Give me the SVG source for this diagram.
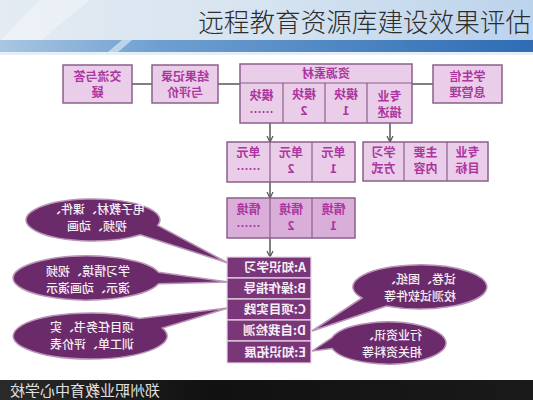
<svg xmlns="http://www.w3.org/2000/svg" width="533" height="400" viewBox="0 0 533 400">
<defs>
<linearGradient id="hdr" x1="0" y1="0" x2="1" y2="0">
<stop offset="0" stop-color="#e4ebf2"/><stop offset="0.5" stop-color="#d6e3f0"/><stop offset="1" stop-color="#bcd3ec"/>
</linearGradient>
<linearGradient id="band" x1="0" y1="0" x2="1" y2="0">
<stop offset="0" stop-color="#a9c6e2"/><stop offset="0.3" stop-color="#6e9fd0"/><stop offset="1" stop-color="#2f6cb4"/>
</linearGradient>
<linearGradient id="foot" x1="0" y1="0" x2="1" y2="0">
<stop offset="0" stop-color="#2a2a2a"/><stop offset="0.4" stop-color="#111"/><stop offset="1" stop-color="#1a1a1a"/>
</linearGradient>
<marker id="ar" viewBox="0 0 8 8" refX="7" refY="4" markerWidth="8" markerHeight="8" markerUnits="userSpaceOnUse" orient="auto">
<path d="M1,1 L7,4 L1,7" fill="none" stroke="#555" stroke-width="1.2"/>
</marker>
<style>
.bx{fill:#e9cde9;stroke:#8c5f8c;stroke-width:1.5}
.bx2{fill:#d9aed9;stroke:#8c5f8c;stroke-width:1.5}
.t{font-family:"Noto Sans CJK SC","Noto Sans",sans-serif;font-size:12px;fill:#ad359f;text-anchor:middle;font-weight:600}
.w{font-family:"Noto Sans CJK SC","Noto Sans",sans-serif;font-size:12px;fill:#f6eef6;text-anchor:middle;font-weight:500}
.ws{font-family:"Noto Sans CJK SC","Noto Sans",sans-serif;font-size:12.5px;fill:#f6eef6;font-weight:600}
.co{fill:#6b2a69;stroke:#b994b7;stroke-width:1.5}
.ln{stroke:#555;stroke-width:1.5;fill:none}
.ae{fill:#7b3579;stroke:#e8d8e8;stroke-width:1.2}
.dv{stroke:#8c5f8c;stroke-width:1.2}
</style>
</defs>
<rect x="0" y="0" width="533" height="400" fill="#ffffff"/>
<g id="header">
<rect x="0" y="0" width="533" height="41" fill="url(#hdr)"/>
<path d="M40,0 L90,0 L40,41 L0,41 Z" fill="#ffffff" opacity="0.35"/>
<rect x="0" y="40" width="533" height="12" fill="url(#band)"/>
<path d="M108,52 L122,40 L132,40 L118,52 Z" fill="#e8f0f8" opacity="0.6"/>
<rect x="0" y="52" width="533" height="3" fill="#e6eef6"/>
<text x="531" y="32" font-family="'Noto Sans CJK SC',sans-serif" font-size="25.6" font-weight="300" fill="#2c2c2c" text-anchor="end">远程教育资源库建设效果评估</text>
</g>
<g id="connectors">
<line class="ln" x1="132" y1="84" x2="152" y2="84"/>
<line class="ln" x1="218" y1="84" x2="240" y2="84"/>
<line class="ln" x1="412" y1="84" x2="433" y2="84"/>
<line class="ln" x1="270" y1="123" x2="270" y2="142" marker-end="url(#ar)"/>
<line class="ln" x1="390" y1="123" x2="390" y2="142" marker-end="url(#ar)"/>
<line class="ln" x1="270" y1="182" x2="270" y2="198" marker-end="url(#ar)"/>
<line class="ln" x1="270" y1="238" x2="270" y2="257" marker-end="url(#ar)"/>
</g>
<g id="qa">
<rect class="bx" x="63" y="65" width="69" height="38"/>
<text class="t" transform="translate(97.5,81) scale(-1,1)">交流与答</text>
<text class="t" transform="translate(97.5,97) scale(-1,1)">疑</text>
</g>
<g id="record">
<rect class="bx" x="152" y="65" width="66" height="38"/>
<text class="t" transform="translate(185,81) scale(-1,1)">结果记录</text>
<text class="t" transform="translate(185,97) scale(-1,1)">与评价</text>
</g>
<g id="resource">
<rect class="bx" x="240" y="64" width="172" height="59"/>
<line class="dv" x1="240" y1="83" x2="412" y2="83"/>
<line class="dv" x1="283" y1="83" x2="283" y2="123"/>
<line class="dv" x1="325" y1="83" x2="325" y2="123"/>
<line class="dv" x1="367" y1="83" x2="367" y2="123"/>
<text class="t" transform="translate(326,78) scale(-1,1)">资源素材</text>
<text class="t" transform="translate(261.5,100) scale(-1,1)">模块</text>
<text class="t" transform="translate(261.5,117) scale(-1,1)">……</text>
<text class="t" transform="translate(304,99) scale(-1,1)">模块</text>
<text class="t" transform="translate(304,115) scale(-1,1)">2</text>
<text class="t" transform="translate(346,99) scale(-1,1)">模块</text>
<text class="t" transform="translate(346,115) scale(-1,1)">1</text>
<text class="t" transform="translate(389.5,101) scale(-1,1)">专业</text>
<text class="t" transform="translate(389.5,117) scale(-1,1)">描述</text>
</g>
<g id="student">
<rect class="bx" x="433" y="65" width="69" height="38"/>
<text class="t" transform="translate(467.5,81) scale(-1,1)">学生信</text>
<text class="t" transform="translate(467.5,97) scale(-1,1)">息管理</text>
</g>
<g id="units">
<rect class="bx" x="227" y="142" width="128" height="40"/>
<line class="dv" x1="270" y1="142" x2="270" y2="182"/>
<line class="dv" x1="312" y1="142" x2="312" y2="182"/>
<text class="t" transform="translate(248.5,157) scale(-1,1)">单元</text>
<text class="t" transform="translate(248.5,174) scale(-1,1)">……</text>
<text class="t" transform="translate(291,157) scale(-1,1)">单元</text>
<text class="t" transform="translate(291,173) scale(-1,1)">2</text>
<text class="t" transform="translate(333.5,157) scale(-1,1)">单元</text>
<text class="t" transform="translate(333.5,173) scale(-1,1)">1</text>
</g>
<g id="goals">
<rect class="bx" x="363" y="142" width="125" height="39"/>
<line class="dv" x1="404" y1="142" x2="404" y2="181"/>
<line class="dv" x1="447" y1="142" x2="447" y2="181"/>
<text class="t" transform="translate(383.5,157) scale(-1,1)">学习</text>
<text class="t" transform="translate(383.5,173) scale(-1,1)">方式</text>
<text class="t" transform="translate(425.5,157) scale(-1,1)">主要</text>
<text class="t" transform="translate(425.5,173) scale(-1,1)">内容</text>
<text class="t" transform="translate(467.5,157) scale(-1,1)">专业</text>
<text class="t" transform="translate(467.5,173) scale(-1,1)">目标</text>
</g>
<g id="scenes">
<rect class="bx2" x="227" y="198" width="128" height="40"/>
<line class="dv" x1="270" y1="198" x2="270" y2="238"/>
<line class="dv" x1="312" y1="198" x2="312" y2="238"/>
<text class="t" transform="translate(248.5,214) scale(-1,1)">情境</text>
<text class="t" transform="translate(248.5,231) scale(-1,1)">……</text>
<text class="t" transform="translate(291,214) scale(-1,1)">情境</text>
<text class="t" transform="translate(291,230) scale(-1,1)">2</text>
<text class="t" transform="translate(333.5,214) scale(-1,1)">情境</text>
<text class="t" transform="translate(333.5,230) scale(-1,1)">1</text>
</g>
<g id="steps">
<rect class="ae" x="227" y="257" width="84" height="21"/>
<rect class="ae" x="227" y="278" width="84" height="21"/>
<rect class="ae" x="227" y="299" width="84" height="21"/>
<rect class="ae" x="227" y="320" width="84" height="21"/>
<rect class="ae" x="227" y="341" width="84" height="22"/>
<text class="ws" transform="translate(306,272) scale(-1,1)">A:知识学习</text>
<text class="ws" transform="translate(306,293) scale(-1,1)">B:操作指导</text>
<text class="ws" transform="translate(306,314) scale(-1,1)">C:项目实践</text>
<text class="ws" transform="translate(306,335) scale(-1,1)">D:自我检测</text>
<text class="ws" transform="translate(306,357) scale(-1,1)">E:知识拓展</text>
</g>
<g id="callout1">
<path class="co" d="M157.7,225.4 L228,263 L140.4,234.8 A67,21 0 1 1 157.7,225.4 Z"/>
<text class="w" transform="translate(97,214) scale(-1,1)">电子教材、课件、</text>
<text class="w" transform="translate(97,231) scale(-1,1)">视频、动画</text>
</g>
<g id="callout2">
<path class="co" d="M158.5,272.3 L228,282 L158.5,283.7 A74,22 0 1 1 158.5,272.3 Z"/>
<text class="w" transform="translate(88,276) scale(-1,1)">学习情境、视频</text>
<text class="w" transform="translate(88,293) scale(-1,1)">演示、动画演示</text>
</g>
<g id="callout3">
<path class="co" d="M139.5,318.4 L228,308 L162.4,328.1 A77,23 0 1 1 139.5,318.4 Z"/>
<text class="w" transform="translate(92,332) scale(-1,1)">项目任务书、实</text>
<text class="w" transform="translate(92,349) scale(-1,1)">训工单、评价表</text>
</g>
<g id="callout4">
<path class="co" d="M386.5,306 L312,331 L362,298 A67,22 0 1 1 386.5,306 Z"/>
<text class="w" transform="translate(420,284) scale(-1,1)">试卷、图纸、</text>
<text class="w" transform="translate(420,301) scale(-1,1)">校测试软件等</text>
</g>
<g id="callout5">
<path class="co" d="M332,348.4 L312,351 L332,337.6 A58,21 0 1 1 332,348.4 Z"/>
<text class="w" transform="translate(392,340) scale(-1,1)">行业资讯、</text>
<text class="w" transform="translate(392,357) scale(-1,1)">相关资料等</text>
</g>
<g id="footer">
<rect x="0" y="380" width="533" height="20" fill="url(#foot)"/>
<text transform="translate(160,396) scale(-1,1)" font-family="'Noto Sans CJK SC',sans-serif" font-size="15" fill="#e0e0e0">郑州职业教育中心学校</text>
</g>
</svg>
